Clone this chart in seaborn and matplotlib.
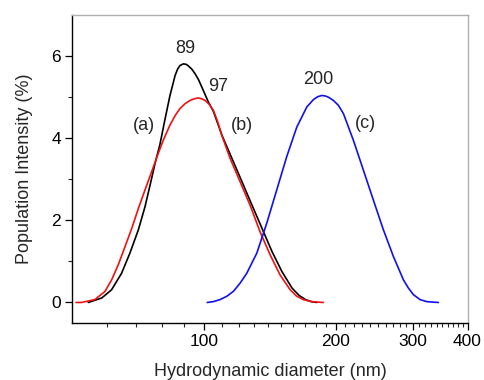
import numpy as np
import pandas as pd
import matplotlib
matplotlib.use("Agg")
import matplotlib.pyplot as plt
import seaborn as sns
from matplotlib.ticker import FixedLocator, FixedFormatter, NullFormatter

# --- data ---
a_x = [54.4, 58.4, 61.5, 64.8, 67.7, 70.8, 73.3, 75.3, 77.3, 79.3, 81.4, 83.6, 85.9,
       87.0, 88.1, 89.7, 91.0, 92.1, 93.8, 95.4, 97.1, 98.8, 100.5, 102.3, 105.0,
       109.9, 115.8, 122.1, 128.7, 135.6, 143.0, 150.7, 158.9, 165.0, 170.5, 176.0, 181.0]
a_y = [0.0, 0.11, 0.31, 0.71, 1.20, 1.77, 2.33, 2.86, 3.39, 3.85, 4.45, 5.04, 5.53,
       5.68, 5.77, 5.81, 5.80, 5.76, 5.68, 5.57, 5.43, 5.25, 5.07, 4.88, 4.66,
       4.07, 3.51, 2.94, 2.37, 1.81, 1.24, 0.75, 0.35, 0.17, 0.07, 0.02, 0.0]

b_x = [51.0, 52.5, 56.3, 59.4, 61.5, 63.7, 66.0, 68.4, 70.8, 73.3, 75.9, 78.6, 80.7,
       83.6, 86.0, 88.1, 90.5, 92.9, 95.0, 97.0, 98.8, 100.5, 102.7, 105.0, 107.3,
       109.8, 114.7, 120.9, 127.4, 134.3, 141.6, 149.2, 157.3, 163.0, 168.7, 176.0, 187.4]
b_y = [0.0, 0.0, 0.07, 0.27, 0.55, 0.92, 1.36, 1.81, 2.29, 2.74, 3.18, 3.63, 3.95,
       4.32, 4.56, 4.72, 4.84, 4.92, 4.96, 4.98, 4.96, 4.92, 4.83, 4.68, 4.42,
       4.07, 3.51, 2.94, 2.37, 1.72, 1.16, 0.67, 0.31, 0.15, 0.07, 0.02, 0.0]

c_x = [101.7, 105.0, 108.8, 112.7, 116.7, 120.9, 125.2, 132.0, 139.1, 146.6, 154.5,
       162.9, 171.7, 177.8, 181.8, 185.8, 189.0, 192.3, 197.5, 202.8, 208.2, 219.4,
       231.3, 243.8, 256.9, 270.8, 285.5, 293.1, 300.9, 311.6, 322.8, 343.2]
c_y = [0.0, 0.02, 0.07, 0.15, 0.27, 0.47, 0.71, 1.20, 1.93, 2.74, 3.55,
       4.27, 4.76, 4.94, 5.01, 5.04, 5.03, 5.00, 4.92, 4.80, 4.60, 3.95,
       3.22, 2.49, 1.77, 1.12, 0.55, 0.35, 0.19, 0.07, 0.02, 0.0]

x_ticks = [100, 200, 300, 400]
y_ticks = [0, 2, 4, 6]

labels_txt = ["89", "97", "(a)", "(b)", "200", "(c)"]
labels_x = [90.5, 107.6, 72.9, 121.9, 182.2, 233.3]
labels_y = [6.19, 5.25, 4.32, 4.32, 5.43, 4.37]

# --- plotting ---
sns.set_style("ticks")
plt.rcParams['font.family'] = ['Liberation Sans', 'DejaVu Sans']

fig = plt.figure(figsize=(4.85, 3.8), dpi=100)
ax = fig.add_axes([0.149, 0.15, 0.815, 0.8105])

df = pd.concat([
    pd.DataFrame({"x": a_x, "y": a_y, "s": "a"}),
    pd.DataFrame({"x": b_x, "y": b_y, "s": "b"}),
    pd.DataFrame({"x": c_x, "y": c_y, "s": "c"}),
])
sns.lineplot(data=df, x="x", y="y", hue="s", sort=False, estimator=None,
             palette={"a": "black", "b": "#f01010", "c": "#1010f0"},
             linewidth=1.2, legend=False, ax=ax)

ax.set_xscale("log")
ax.set_xlim(50, 400)
ax.set_ylim(-0.5, 7)
ax.xaxis.set_major_locator(FixedLocator(x_ticks))
ax.xaxis.set_major_formatter(FixedFormatter([str(v) for v in x_ticks]))
minor = [v for v in np.arange(60, 400, 10) if v not in x_ticks]
ax.xaxis.set_minor_locator(FixedLocator(minor))
ax.xaxis.set_minor_formatter(NullFormatter())
ax.yaxis.set_major_locator(FixedLocator(y_ticks))
ax.yaxis.set_minor_locator(FixedLocator([1, 3, 5]))

ax.tick_params(axis="both", which="major", direction="out", length=5, width=0.9,
               labelsize=12.5, colors="black", pad=3)
ax.tick_params(axis="both", which="minor", direction="out", length=3, width=0.8)

for s in ["left", "bottom"]:
    ax.spines[s].set_color("black")
    ax.spines[s].set_linewidth(1.0)
for s in ["top", "right"]:
    ax.spines[s].set_visible(True)
    ax.spines[s].set_color("#b0b0b0")
    ax.spines[s].set_linewidth(1.0)

ax.set_xlabel("Hydrodynamic diameter (nm)", fontsize=13, labelpad=10)
ax.set_ylabel("Population Intensity (%)", fontsize=13, labelpad=13)

for t, x, y in zip(labels_txt, labels_x, labels_y):
    ax.text(x, y, t, ha="center", va="center", fontsize=13)

fig.savefig("out.png", dpi=100, facecolor="white")
